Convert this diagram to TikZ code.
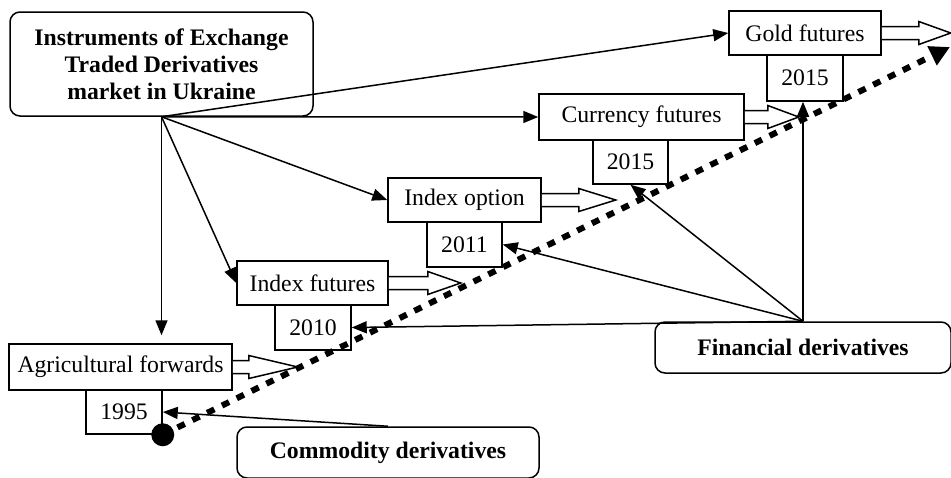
\documentclass[tikz,border=0pt]{standalone}
\usepackage{fontspec}
\setmainfont{Liberation Serif}
\usetikzlibrary{arrows.meta,calc}
\newcommand{\hollowarr}[3]{\draw[line width=1.5pt, fill=white, line join=miter]
  ($(#1.east)+(0,-6.5)$) -- ++(#2,0) -- ++(0,-5) -- ++(#3,11.5) -- ++(-#3,11.5) -- ++(0,-5) -- ++(-#2,0);}
\begin{document}
\begin{tikzpicture}[x=1pt,y=-1pt,
  font=\fontsize{23.7}{27}\selectfont,
  box/.style={draw, line width=1.5pt, fill=white, inner sep=0pt, align=center},
  rbox/.style={box, rounded corners=10pt, font=\fontsize{23.7}{27}\selectfont\bfseries},
  conn/.style={line width=1.5pt, -{Triangle[length=15pt,width=12pt]}},
  dots/.style={line width=6pt, dash pattern=on 8pt off 8.5pt, -{Triangle[length=20pt,width=20pt]}}]
\useasboundingbox (0,0) rectangle (951,477);
% boxes
\node[rbox, minimum width=303pt, minimum height=104pt] (main) at (161.5,64) {Instruments of Exchange\\Traded Derivatives\\market in Ukraine};
\node[box, minimum width=152pt, minimum height=44pt] (gold) at (805,33) {Gold futures};
\node[box, minimum width=76pt, minimum height=46pt] (gold15) at (805,78) {2015};
\node[box, minimum width=205pt, minimum height=46pt] (cur) at (641.5,117) {Currency futures};
\node[box, minimum width=75pt, minimum height=44pt] (cur15) at (630.5,162) {2015};
\node[box, minimum width=153pt, minimum height=44pt] (iopt) at (464.5,200) {Index option};
\node[box, minimum width=75pt, minimum height=45pt] (y2011) at (464.5,244.5) {2011};
\node[box, minimum width=151pt, minimum height=44pt] (ifut) at (312.5,283) {Index futures};
\node[box, minimum width=76pt, minimum height=45pt] (y2010) at (313,327.5) {2010};
\node[box, minimum width=223pt, minimum height=46pt] (agri) at (120.5,367) {Agricultural forwards};
\node[box, minimum width=76pt, minimum height=44pt] (y1995) at (124,412) {1995};
\node[rbox, minimum width=296pt, minimum height=51pt] (fin) at (803,347.5) {Financial derivatives};
\node[rbox, minimum width=302pt, minimum height=51pt] (com) at (388,452.5) {Commodity derivatives};
% hollow arrows
\hollowarr{gold}{37}{32}
\hollowarr{cur}{23}{31}
\hollowarr{iopt}{37}{37}
\hollowarr{ifut}{39}{33}
\hollowarr{agri}{16}{49}
% connectors from main
\draw[conn] (main.south) -- (gold.west);
\draw[conn] (main.south) -- (cur.west);
\draw[conn] (main.south) -- (iopt.west);
\draw[conn] (main.south) -- (ifut.west);
\draw[conn, shorten >=8pt] (main.south) -- (main.south |- agri.north);
% connectors from financial
\draw[conn] (fin.north) -- (fin.north |- gold15.south);
\draw[conn] (fin.north) -- (cur15.south);
\draw[conn] (fin.north) -- (y2011.east);
\draw[conn] (fin.north) -- (y2010.east);
% commodity
\draw[conn] (com.north) -- (y1995.east);
% timeline
\coordinate (tend) at (950,47);
\draw[dots] (y1995.south east) -- (tend);
\fill (y1995.south east) circle (11.5pt);
\end{tikzpicture}
\end{document}
